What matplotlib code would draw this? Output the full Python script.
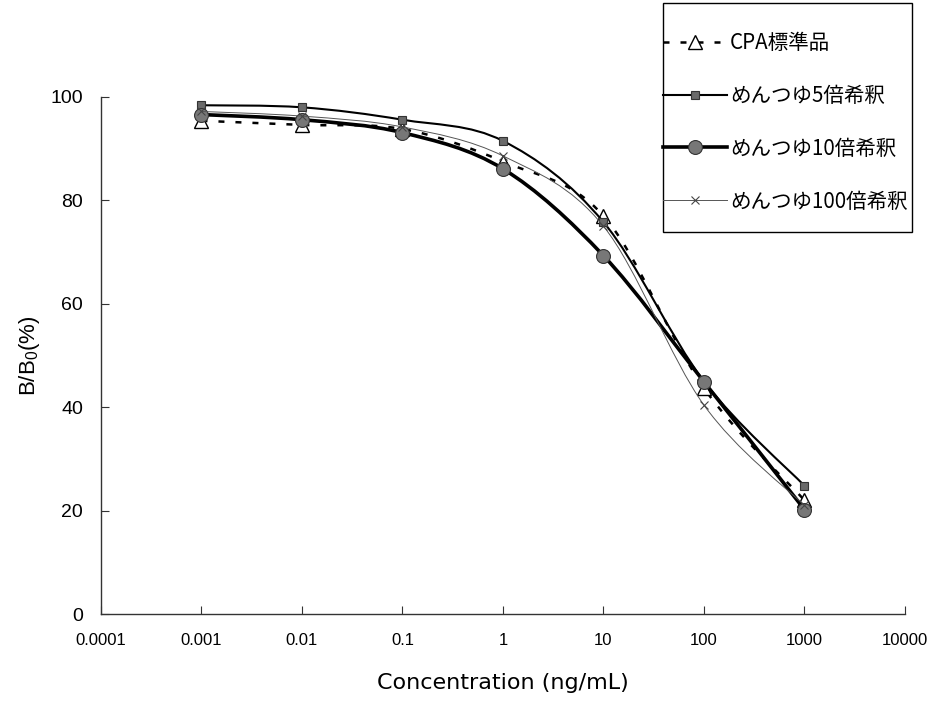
import numpy as np
import matplotlib.pyplot as plt
from matplotlib.path import Path
from matplotlib.patches import PathPatch, Rectangle
from matplotlib.lines import Line2D

plt.rcParams['font.family'] = ['Liberation Sans', 'Noto Sans CJK JP', 'DejaVu Sans']

# data
conc = [0.001, 0.01, 0.1, 1, 10, 100, 1000]
cpa_std = [95.4, 94.6, 93.8, 87.5, 77.0, 43.7, 22.0]
dil_5 = [98.4, 98.0, 95.6, 91.5, 75.8, 45.0, 24.8]
dil_10 = [96.6, 95.6, 93.1, 86.1, 69.3, 44.9, 20.2]
dil_100 = [97.2, 96.3, 94.2, 88.6, 75.0, 40.4, 21.0]

labels = ['CPA標準品', 'めんつゆ5倍希釈', 'めんつゆ10倍希釈', 'めんつゆ100倍希釈']
xticks = [0.0001, 0.001, 0.01, 0.1, 1, 10, 100, 1000, 10000]
xtick_labels = ['0.0001', '0.001', '0.01', '0.1', '1', '10', '100', '1000', '10000']


def smooth_path(xs, ys):
    # Excel-like smoothed line: cubic bezier segments (Catmull-Rom) in log-x space
    u = np.log10(np.asarray(xs, float))
    v = np.asarray(ys, float)
    n = len(u)
    verts = [(xs[0], ys[0])]
    codes = [Path.MOVETO]
    for i in range(n - 1):
        i0 = max(i - 1, 0)
        i3 = min(i + 2, n - 1)
        c1u = u[i] + (u[i + 1] - u[i0]) / 6
        c1v = v[i] + (v[i + 1] - v[i0]) / 6
        c2u = u[i + 1] - (u[i3] - u[i]) / 6
        c2v = v[i + 1] - (v[i3] - v[i]) / 6
        verts += [(10 ** c1u, c1v), (10 ** c2u, c2v), (10 ** u[i + 1], v[i + 1])]
        codes += [Path.CURVE4] * 3
    return Path(verts, codes)


W, H = 928, 711
fig = plt.figure(figsize=(W / 100, H / 100), dpi=100)
ax = fig.add_axes([0.1088, 0.1364, 0.8664, 0.7272])
ax.set_xscale('log')

series = [
    (cpa_std, dict(color='black', lw=1.8, ls=(0, (2.4, 4.4))),
     dict(marker='^', ms=10, mfc='white', mec='black', mew=1.0)),
    (dil_5, dict(color='black', lw=1.5, ls='-'),
     dict(marker='s', ms=6, mfc='#6a6a6a', mec='#333333', mew=0.8)),
    (dil_10, dict(color='black', lw=2.6, ls='-'),
     dict(marker='o', ms=10, mfc='#777777', mec='#333333', mew=0.8)),
    (dil_100, dict(color='#555555', lw=0.7, ls='-'),
     dict(marker='x', ms=6, mec='#444444', mew=0.8)),
]

handles = []
for k, (vals, lstyle, mstyle) in enumerate(series):
    patch = PathPatch(smooth_path(conc, vals), fill=False, edgecolor=lstyle['color'],
                      lw=lstyle['lw'], linestyle=lstyle['ls'], capstyle='butt',
                      zorder=2 + k)
    ax.add_patch(patch)
    ax.plot(conc, vals, ls='none', zorder=2.5 + k, **mstyle)
    handles.append(Line2D([], [], color=lstyle['color'], lw=lstyle['lw'],
                          ls=lstyle['ls'], **mstyle))

ax.set_xlim(0.0001, 10000)
ax.set_ylim(0, 100)
ax.set_xticks(xticks)
ax.set_xticklabels(xtick_labels)
ax.minorticks_off()
ax.set_yticks([0, 20, 40, 60, 80, 100])

for s in ['top', 'right']:
    ax.spines[s].set_visible(False)
for s in ['left', 'bottom']:
    ax.spines[s].set_color('#333333')
    ax.spines[s].set_linewidth(1.0)

ax.tick_params(axis='y', direction='in', length=6, width=0.8, color='#333333',
               pad=13, labelsize=14)
ax.tick_params(axis='x', direction='in', length=6, width=0.8, color='#333333',
               pad=14, labelsize=12)

ax.set_ylabel('B/B$_\\mathregular{0}$(%)', fontsize=16, labelpad=6)
ax.set_xlabel('Concentration (ng/mL)', fontsize=16, labelpad=18,
              family=['DejaVu Sans'])

# legend box: handles sit right against the left edge, as in the original
fig.patches.append(Rectangle((663 / W, 1 - 232 / H), 249 / W, 229 / H,
                             transform=fig.transFigure, fill=False,
                             edgecolor='black', lw=1.0))
leg = fig.legend(handles, labels, loc='upper left',
                 bbox_to_anchor=(663 / W, 1 - 32 / H),
                 prop={'family': ['Noto Sans CJK JP', 'DejaVu Sans'], 'size': 14.8},
                 frameon=False, handlelength=3.1, handletextpad=0.15,
                 labelspacing=1.5, borderpad=0, borderaxespad=0)

fig.savefig('out.png', dpi=100)
